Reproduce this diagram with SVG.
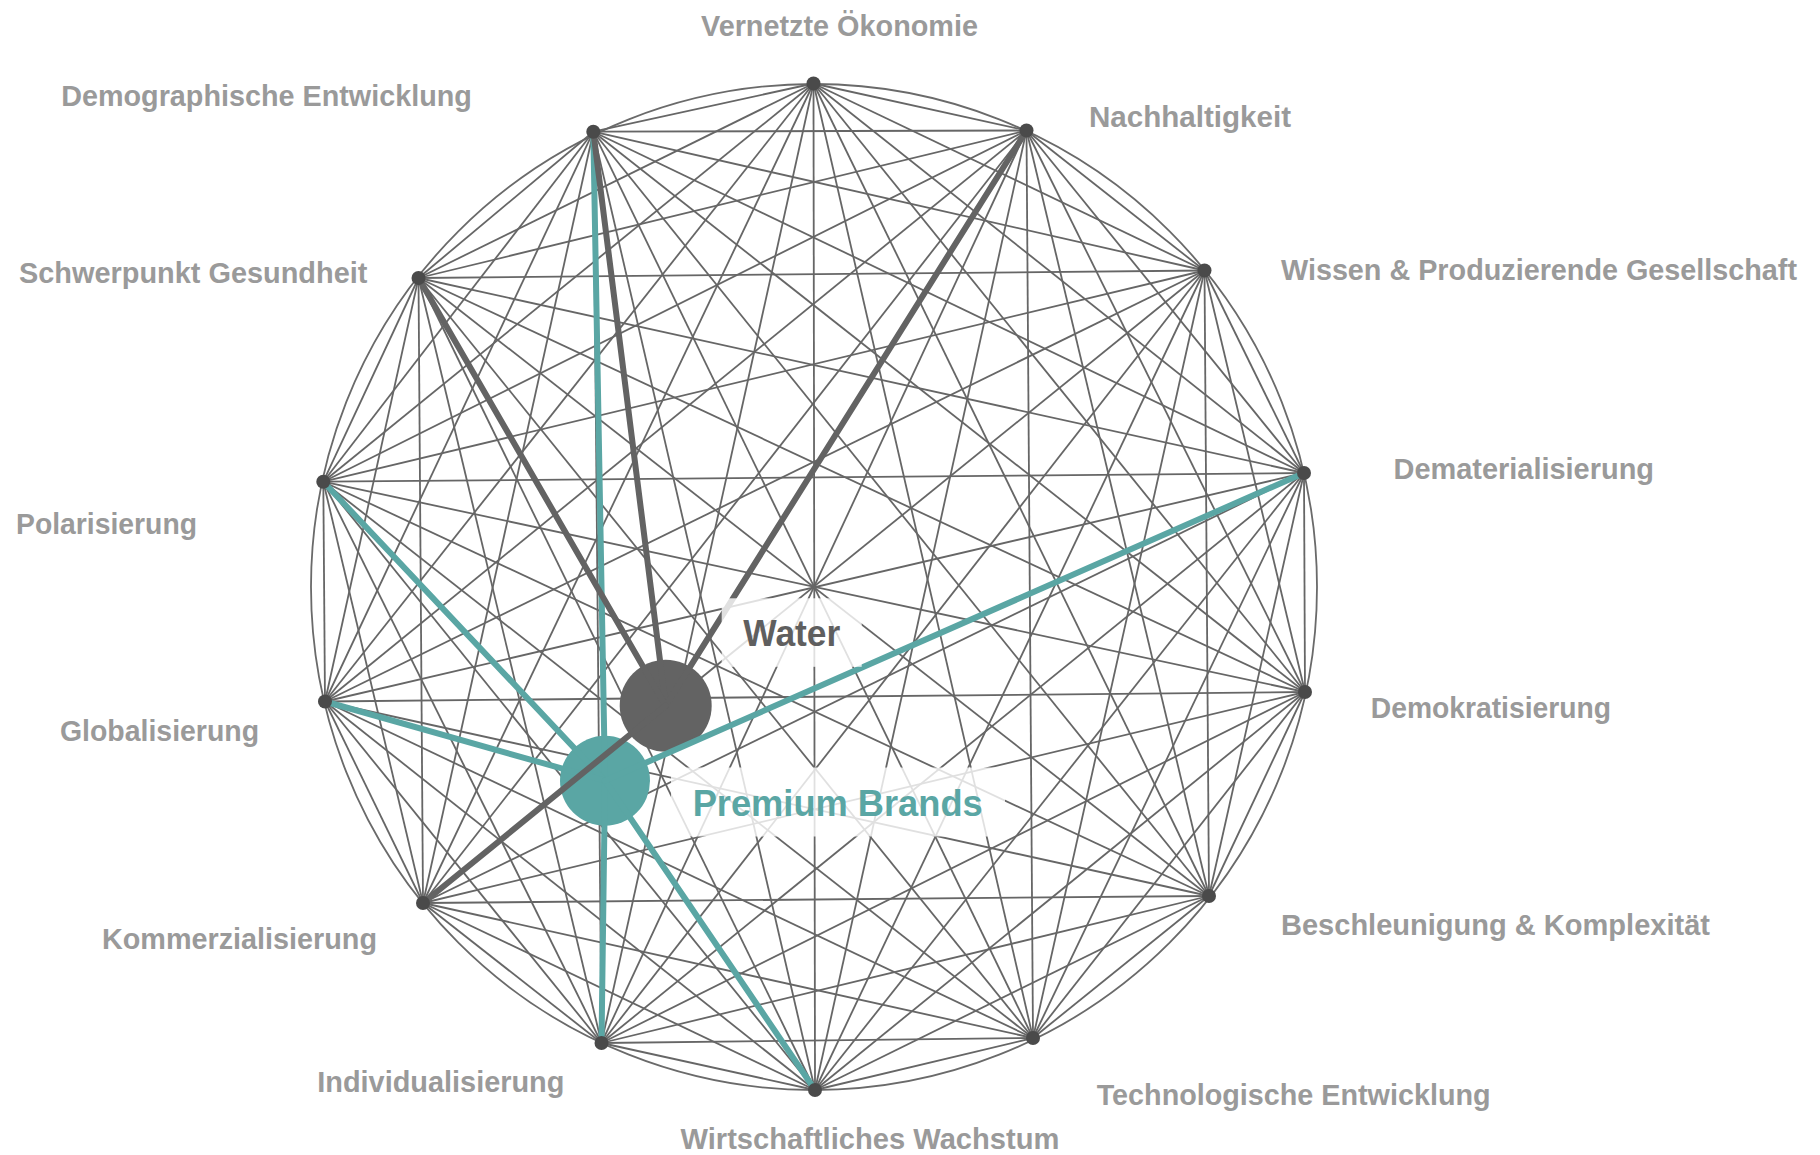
<svg xmlns="http://www.w3.org/2000/svg" width="1820" height="1155" viewBox="0 0 1820 1155">
<style>
.bg{fill:#ffffff}
.ring{fill:none;stroke:#6a6a6a;stroke-width:1.8}
.e{stroke:#666666;stroke-width:1.8;fill:none}
.dk{stroke:#636363;stroke-width:6;stroke-linecap:round}
.tl{stroke:#5aa6a4;stroke-width:6;stroke-linecap:round}
.dot{fill:#4a4a4a}
.lbl{font-family:"Liberation Sans",Arial,sans-serif;font-weight:bold;font-size:29px;fill:#9a9a9a}
.veil{fill:#ffffff;fill-opacity:0.8}
.big{font-family:"Liberation Sans",Arial,sans-serif;font-weight:bold;font-size:37px}
</style>
<rect class="bg" x="0" y="0" width="1820" height="1155"/>
<circle class="ring" cx="814" cy="587" r="503"/>
<g id="connectors">
<line class="e" x1="813.5" y1="83.5" x2="1026.5" y2="130.5"/>
<line class="e" x1="813.5" y1="83.5" x2="1204.5" y2="270.5"/>
<line class="e" x1="813.5" y1="83.5" x2="1304" y2="473"/>
<line class="e" x1="813.5" y1="83.5" x2="1305" y2="692"/>
<line class="e" x1="813.5" y1="83.5" x2="1209" y2="896"/>
<line class="e" x1="813.5" y1="83.5" x2="1033" y2="1038"/>
<line class="e" x1="813.5" y1="83.5" x2="815" y2="1090"/>
<line class="e" x1="813.5" y1="83.5" x2="601.5" y2="1043"/>
<line class="e" x1="813.5" y1="83.5" x2="423" y2="903"/>
<line class="e" x1="813.5" y1="83.5" x2="325" y2="701.5"/>
<line class="e" x1="813.5" y1="83.5" x2="323.3" y2="481.7"/>
<line class="e" x1="813.5" y1="83.5" x2="418.5" y2="278"/>
<line class="e" x1="813.5" y1="83.5" x2="593.3" y2="131.7"/>
<line class="e" x1="1026.5" y1="130.5" x2="1204.5" y2="270.5"/>
<line class="e" x1="1026.5" y1="130.5" x2="1304" y2="473"/>
<line class="e" x1="1026.5" y1="130.5" x2="1305" y2="692"/>
<line class="e" x1="1026.5" y1="130.5" x2="1209" y2="896"/>
<line class="e" x1="1026.5" y1="130.5" x2="1033" y2="1038"/>
<line class="e" x1="1026.5" y1="130.5" x2="815" y2="1090"/>
<line class="e" x1="1026.5" y1="130.5" x2="601.5" y2="1043"/>
<line class="e" x1="1026.5" y1="130.5" x2="423" y2="903"/>
<line class="e" x1="1026.5" y1="130.5" x2="325" y2="701.5"/>
<line class="e" x1="1026.5" y1="130.5" x2="323.3" y2="481.7"/>
<line class="e" x1="1026.5" y1="130.5" x2="418.5" y2="278"/>
<line class="e" x1="1026.5" y1="130.5" x2="593.3" y2="131.7"/>
<line class="e" x1="1204.5" y1="270.5" x2="1304" y2="473"/>
<line class="e" x1="1204.5" y1="270.5" x2="1305" y2="692"/>
<line class="e" x1="1204.5" y1="270.5" x2="1209" y2="896"/>
<line class="e" x1="1204.5" y1="270.5" x2="1033" y2="1038"/>
<line class="e" x1="1204.5" y1="270.5" x2="815" y2="1090"/>
<line class="e" x1="1204.5" y1="270.5" x2="601.5" y2="1043"/>
<line class="e" x1="1204.5" y1="270.5" x2="423" y2="903"/>
<line class="e" x1="1204.5" y1="270.5" x2="325" y2="701.5"/>
<line class="e" x1="1204.5" y1="270.5" x2="323.3" y2="481.7"/>
<line class="e" x1="1204.5" y1="270.5" x2="418.5" y2="278"/>
<line class="e" x1="1204.5" y1="270.5" x2="593.3" y2="131.7"/>
<line class="e" x1="1304" y1="473" x2="1305" y2="692"/>
<line class="e" x1="1304" y1="473" x2="1209" y2="896"/>
<line class="e" x1="1304" y1="473" x2="1033" y2="1038"/>
<line class="e" x1="1304" y1="473" x2="815" y2="1090"/>
<line class="e" x1="1304" y1="473" x2="601.5" y2="1043"/>
<line class="e" x1="1304" y1="473" x2="423" y2="903"/>
<line class="e" x1="1304" y1="473" x2="325" y2="701.5"/>
<line class="e" x1="1304" y1="473" x2="323.3" y2="481.7"/>
<line class="e" x1="1304" y1="473" x2="418.5" y2="278"/>
<line class="e" x1="1304" y1="473" x2="593.3" y2="131.7"/>
<line class="e" x1="1305" y1="692" x2="1209" y2="896"/>
<line class="e" x1="1305" y1="692" x2="1033" y2="1038"/>
<line class="e" x1="1305" y1="692" x2="815" y2="1090"/>
<line class="e" x1="1305" y1="692" x2="601.5" y2="1043"/>
<line class="e" x1="1305" y1="692" x2="423" y2="903"/>
<line class="e" x1="1305" y1="692" x2="325" y2="701.5"/>
<line class="e" x1="1305" y1="692" x2="323.3" y2="481.7"/>
<line class="e" x1="1305" y1="692" x2="418.5" y2="278"/>
<line class="e" x1="1305" y1="692" x2="593.3" y2="131.7"/>
<line class="e" x1="1209" y1="896" x2="1033" y2="1038"/>
<line class="e" x1="1209" y1="896" x2="815" y2="1090"/>
<line class="e" x1="1209" y1="896" x2="601.5" y2="1043"/>
<line class="e" x1="1209" y1="896" x2="423" y2="903"/>
<line class="e" x1="1209" y1="896" x2="325" y2="701.5"/>
<line class="e" x1="1209" y1="896" x2="323.3" y2="481.7"/>
<line class="e" x1="1209" y1="896" x2="418.5" y2="278"/>
<line class="e" x1="1209" y1="896" x2="593.3" y2="131.7"/>
<line class="e" x1="1033" y1="1038" x2="815" y2="1090"/>
<line class="e" x1="1033" y1="1038" x2="601.5" y2="1043"/>
<line class="e" x1="1033" y1="1038" x2="423" y2="903"/>
<line class="e" x1="1033" y1="1038" x2="325" y2="701.5"/>
<line class="e" x1="1033" y1="1038" x2="323.3" y2="481.7"/>
<line class="e" x1="1033" y1="1038" x2="418.5" y2="278"/>
<line class="e" x1="1033" y1="1038" x2="593.3" y2="131.7"/>
<line class="e" x1="815" y1="1090" x2="601.5" y2="1043"/>
<line class="e" x1="815" y1="1090" x2="423" y2="903"/>
<line class="e" x1="815" y1="1090" x2="325" y2="701.5"/>
<line class="e" x1="815" y1="1090" x2="323.3" y2="481.7"/>
<line class="e" x1="815" y1="1090" x2="418.5" y2="278"/>
<line class="e" x1="815" y1="1090" x2="593.3" y2="131.7"/>
<line class="e" x1="601.5" y1="1043" x2="423" y2="903"/>
<line class="e" x1="601.5" y1="1043" x2="325" y2="701.5"/>
<line class="e" x1="601.5" y1="1043" x2="323.3" y2="481.7"/>
<line class="e" x1="601.5" y1="1043" x2="418.5" y2="278"/>
<line class="e" x1="601.5" y1="1043" x2="593.3" y2="131.7"/>
<line class="e" x1="423" y1="903" x2="325" y2="701.5"/>
<line class="e" x1="423" y1="903" x2="323.3" y2="481.7"/>
<line class="e" x1="423" y1="903" x2="418.5" y2="278"/>
<line class="e" x1="423" y1="903" x2="593.3" y2="131.7"/>
<line class="e" x1="325" y1="701.5" x2="323.3" y2="481.7"/>
<line class="e" x1="325" y1="701.5" x2="418.5" y2="278"/>
<line class="e" x1="325" y1="701.5" x2="593.3" y2="131.7"/>
<line class="e" x1="323.3" y1="481.7" x2="418.5" y2="278"/>
<line class="e" x1="323.3" y1="481.7" x2="593.3" y2="131.7"/>
<line class="e" x1="418.5" y1="278" x2="593.3" y2="131.7"/>
</g>
<g id="node-premium-brands-circle">
<circle cx="605" cy="780.7" r="45" fill="#5aa6a4"/>
</g>
<g id="node-water-circle">
<circle cx="665.7" cy="705.7" r="46" fill="#636363"/>
</g>
<g id="highlight-connectors">
<line class="tl" x1="593.3" y1="131.7" x2="605" y2="780.7"/>
<line class="tl" x1="323.3" y1="481.7" x2="605" y2="780.7"/>
<line class="tl" x1="325" y1="701.5" x2="605" y2="780.7"/>
<line class="tl" x1="601.5" y1="1043" x2="605" y2="780.7"/>
<line class="tl" x1="815" y1="1090" x2="605" y2="780.7"/>
<line class="tl" x1="1304" y1="473" x2="605" y2="780.7"/>
<line class="dk" x1="593.3" y1="131.7" x2="665.7" y2="705.7"/>
<line class="dk" x1="418.5" y1="278" x2="665.7" y2="705.7"/>
<line class="dk" x1="1026.5" y1="130.5" x2="665.7" y2="705.7"/>
<line class="dk" x1="423" y1="903" x2="665.7" y2="705.7"/>
</g>
<g id="node-water">
<rect class="veil" x="721.7" y="598.3" width="140" height="68.5"/>
<text class="big" x="743.3" y="645.5" fill="#5f5f5f" textLength="97" lengthAdjust="spacingAndGlyphs">Water</text>
</g>
<g id="node-premium-brands">
<rect class="veil" x="671" y="767.5" width="334" height="69"/>
<text class="big" x="692.7" y="816" fill="#5aa6a4" textLength="290" lengthAdjust="spacingAndGlyphs">Premium Brands</text>
</g>
<g id="node-vernetzte-oekonomie"><circle class="dot" cx="813.5" cy="83.5" r="7"/><text class="lbl" x="701" y="36" textLength="277" lengthAdjust="spacingAndGlyphs">Vernetzte Ökonomie</text></g>
<g id="node-nachhaltigkeit"><circle class="dot" cx="1026.5" cy="130.5" r="7"/><text class="lbl" x="1089" y="126.5" textLength="202" lengthAdjust="spacingAndGlyphs">Nachhaltigkeit</text></g>
<g id="node-wissen"><circle class="dot" cx="1204.5" cy="270.5" r="7"/><text class="lbl" x="1281" y="280" textLength="516" lengthAdjust="spacingAndGlyphs">Wissen &amp; Produzierende Gesellschaft</text></g>
<g id="node-dematerialisierung"><circle class="dot" cx="1304" cy="473" r="7"/><text class="lbl" x="1393.5" y="479.3" textLength="260.5" lengthAdjust="spacingAndGlyphs">Dematerialisierung</text></g>
<g id="node-demokratisierung"><circle class="dot" cx="1305" cy="692" r="7"/><text class="lbl" x="1370.8" y="718.3" textLength="240.2" lengthAdjust="spacingAndGlyphs">Demokratisierung</text></g>
<g id="node-beschleunigung"><circle class="dot" cx="1209" cy="896" r="7"/><text class="lbl" x="1281" y="934.5" textLength="429" lengthAdjust="spacingAndGlyphs">Beschleunigung &amp; Komplexität</text></g>
<g id="node-technologische-entwicklung"><circle class="dot" cx="1033" cy="1038" r="7"/><text class="lbl" x="1096.7" y="1105" textLength="393.9" lengthAdjust="spacingAndGlyphs">Technologische Entwicklung</text></g>
<g id="node-wirtschaftliches-wachstum"><circle class="dot" cx="815" cy="1090" r="7"/><text class="lbl" x="680.5" y="1149.3" textLength="378.9" lengthAdjust="spacingAndGlyphs">Wirtschaftliches Wachstum</text></g>
<g id="node-individualisierung"><circle class="dot" cx="601.5" cy="1043" r="7"/><text class="lbl" x="317.3" y="1092.3" textLength="247.1" lengthAdjust="spacingAndGlyphs">Individualisierung</text></g>
<g id="node-kommerzialisierung"><circle class="dot" cx="423" cy="903" r="7"/><text class="lbl" x="102" y="948.5" textLength="275" lengthAdjust="spacingAndGlyphs">Kommerzialisierung</text></g>
<g id="node-globalisierung"><circle class="dot" cx="325" cy="701.5" r="7"/><text class="lbl" x="60" y="740.5" textLength="199" lengthAdjust="spacingAndGlyphs">Globalisierung</text></g>
<g id="node-polarisierung"><circle class="dot" cx="323.3" cy="481.7" r="7"/><text class="lbl" x="16" y="534" textLength="181" lengthAdjust="spacingAndGlyphs">Polarisierung</text></g>
<g id="node-schwerpunkt-gesundheit"><circle class="dot" cx="418.5" cy="278" r="7"/><text class="lbl" x="19" y="282.7" textLength="348.4" lengthAdjust="spacingAndGlyphs">Schwerpunkt Gesundheit</text></g>
<g id="node-demographische-entwicklung"><circle class="dot" cx="593.3" cy="131.7" r="7"/><text class="lbl" x="61.2" y="106" textLength="410.7" lengthAdjust="spacingAndGlyphs">Demographische Entwicklung</text></g>
</svg>
